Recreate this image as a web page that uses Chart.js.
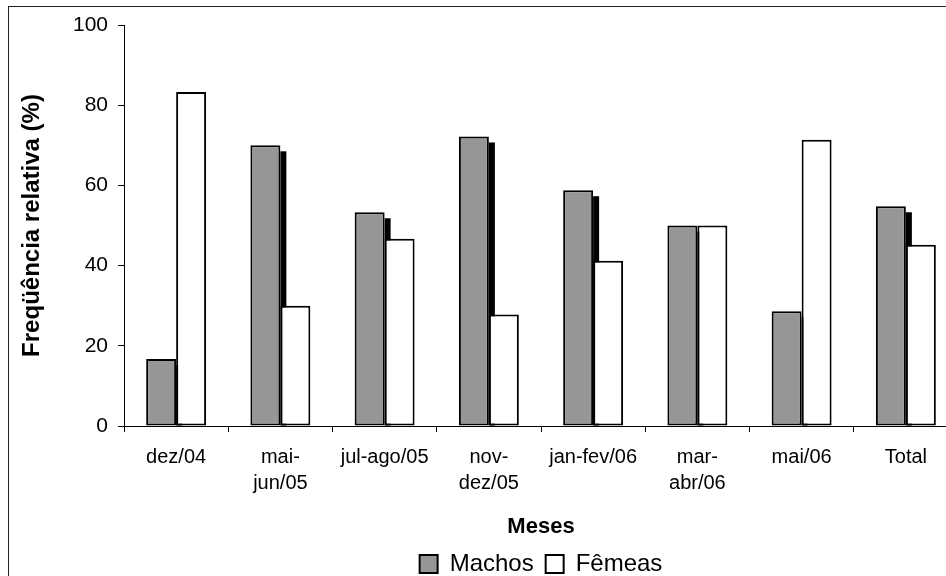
<!DOCTYPE html>
<html>
<head>
<meta charset="utf-8">
<script src="https://cdn.jsdelivr.net/npm/chart.js@4"></script>
<style>
  html, body { margin: 0; padding: 0; background: #fff; overflow: hidden; width: 946px; height: 576px; }
  #frame { position: absolute; left: 8px; top: 6px; width: 1100px; height: 700px; border: 1.5px solid #222; box-sizing: border-box; }
  #wrap { position: absolute; left: 0; top: 0; width: 1000px; height: 600px; }
</style>
</head>
<body>
<div id="frame"></div>
<div id="wrap"><canvas id="c" width="1000" height="600"></canvas></div>
<script>
const categories = ['dez/04', ['mai-', 'jun/05'], 'jul-ago/05', ['nov-', 'dez/05'], 'jan-fev/06', ['mar-', 'abr/06'], 'mai/06', 'Total'];
const machos = [16.7, 70.0, 53.3, 72.2, 58.8, 50.0, 28.6, 54.8];
const femeas = [83.3, 30.0, 46.7, 27.8, 41.2, 50.0, 71.4, 45.2];
const yTicks = [0, 20, 40, 60, 80, 100];

Chart.defaults.font.family = "'Liberation Sans', Arial, sans-serif";
Chart.defaults.color = '#000';

const shadowPlugin = {
  id: 'barShadow',
  beforeDatasetsDraw(chart) {
    const ctx = chart.ctx;
    const meta = chart.getDatasetMeta(0);
    ctx.save();
    ctx.fillStyle = '#000';
    meta.data.forEach(el => {
      const p = el.getProps(['x', 'y', 'base', 'width'], true);
      const x0 = p.x + p.width / 2;
      ctx.fillRect(x0, p.y + 6, 6, p.base - p.y - 6);
    });
    ctx.restore();
  }
};

new Chart(document.getElementById('c'), {
  type: 'bar',
  data: {
    labels: categories,
    datasets: [
      { label: 'Machos', data: machos, backgroundColor: '#969696', borderColor: '#000', borderWidth: 2, borderSkipped: false },
      { label: 'Fêmeas', data: femeas, backgroundColor: '#ffffff', borderColor: '#000', borderWidth: 2, borderSkipped: false }
    ]
  },
  options: {
    responsive: false,
    animation: false,
    events: [],
    layout: { padding: { left: 0, top: 25, right: 42, bottom: 14 } },
    datasets: { bar: { categoryPercentage: 0.575, barPercentage: 1.0 } },
    plugins: {
      tooltip: { enabled: false },
      legend: {
        position: 'bottom',
        fullSize: false,
        labels: {
          boxWidth: 18, boxHeight: 18, padding: 12,
          font: { size: 24 }, color: '#000'
        }
      }
    },
    scales: {
      x: {
        grid: { display: true, drawOnChartArea: false, drawTicks: true, tickLength: 6, color: '#000', offset: true },
        border: { display: true, color: '#000', width: 1 },
        ticks: { font: { size: 20, lineHeight: 1.3 }, color: '#000', maxRotation: 0, autoSkip: false, padding: 12 },
        title: { display: true, text: 'Meses', font: { size: 22, weight: 'bold' }, color: '#000', padding: { top: 0, bottom: 0 } },
        afterFit(scale) { scale.height = 114; }
      },
      y: {
        min: 0, max: 100,
        afterBuildTicks(scale) { scale.ticks = yTicks.map(v => ({ value: v })); },
        grid: { display: true, drawOnChartArea: false, drawTicks: true, tickLength: 6, color: '#000' },
        border: { display: true, color: '#000', width: 1 },
        ticks: { font: { size: 21 }, color: '#000', padding: 10 },
        title: { display: true, text: 'Freqüência relativa (%)', font: { size: 24, weight: 'bold' }, color: '#000', padding: { top: 18, bottom: 0 } },
        afterFit(scale) { scale.width = 124; }
      }
    }
  },
  plugins: [shadowPlugin]
});
</script>
</body>
</html>
